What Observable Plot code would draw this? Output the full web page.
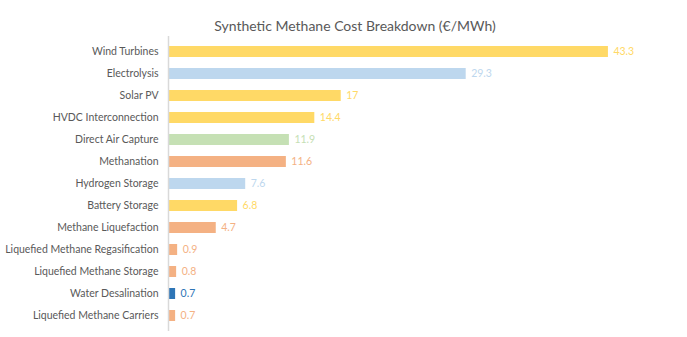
<!DOCTYPE html>
<html><head><meta charset="utf-8">
<script src="https://cdn.jsdelivr.net/npm/d3@7"></script>
<script src="https://cdn.jsdelivr.net/npm/@observablehq/plot@0.6"></script>
<style>
body{margin:0;background:#fff;}
#title{height:36px;width:687px;position:relative;font-family:Lato,"Open Sans",sans-serif;color:#595959;}
#title span{position:absolute;left:355px;top:17px;transform:translateX(-50%);font-size:14px;white-space:nowrap;}
#chart svg{display:block;}
</style></head>
<body>
<div id="title"><span>Synthetic Methane Cost Breakdown (€/MWh)</span></div>
<div id="chart"></div>
<script>
const categories = ["Wind Turbines","Electrolysis","Solar PV","HVDC Interconnection","Direct Air Capture","Methanation","Hydrogen Storage","Battery Storage","Methane Liquefaction","Liquefied Methane Regasification","Liquefied Methane Storage","Water Desalination","Liquefied Methane Carriers"];
const values = [43.3,29.3,17,14.4,11.9,11.6,7.6,6.8,4.7,0.9,0.8,0.7,0.7];
const groups = ["wind","electrolysis","wind","wind","dac","methane","electrolysis","wind","methane","methane","methane","water","methane"];
const groupColors = {wind:"#FFD966",electrolysis:"#BDD7EE",dac:"#C5E0B4",methane:"#F4B183",water:"#2E75B6"};
const data = categories.map((c,i)=>({category:c,value:values[i],group:groups[i]}));

const chart = Plot.plot({
  width: 687,
  height: 301,
  marginLeft: 168,
  marginRight: 11,
  marginTop: 0,
  marginBottom: 6,
  style: {fontFamily: "Lato, 'Open Sans', sans-serif", fontSize: "10.5px", color: "#595959", background: "#fff"},
  x: {domain: [0, 50], axis: null},
  y: {domain: categories, paddingInner: 0.52, paddingOuter: 0.26, label: null, tickSize: 0, tickPadding: 10},
  color: {domain: Object.keys(groupColors), range: Object.values(groupColors)},
  marks: [
    Plot.barX(data, {x: "value", y: "category", fill: "group"}),
    Plot.ruleX([0], {stroke: "#d9d9d9", strokeWidth: 1.5}),
    Plot.text(data, {x: "value", y: "category", text: d => String(d.value), fill: d => groupColors[d.group], textAnchor: "start", dx: 5, fontSize: 10.5})
  ]
});
document.getElementById("chart").appendChild(chart);
</script>
</body></html>
